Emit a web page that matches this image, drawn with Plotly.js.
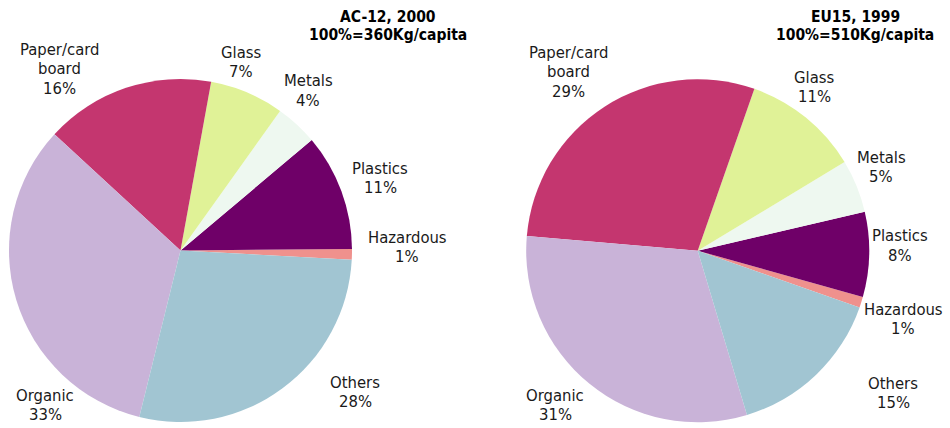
<!DOCTYPE html>
<html>
<head>
<meta charset="utf-8">
<script src="https://cdn.plot.ly/plotly-3.0.1.min.js"></script>
<style>html,body{margin:0;padding:0;background:#fff}#chart{width:950px;height:428px}</style>
</head>
<body>
<div id="chart"></div>
<script>
// ---- data ----
const labelLines = [['Hazardous'], ['Plastics'], ['Metals'], ['Glass'], ['Paper/card', 'board'], ['Organic'], ['Others']];
const labels = labelLines.map(l => l.join(' '));
const ac12Values = [1, 11, 4, 7, 16, 33, 28];
const eu15Values = [1, 8, 5, 11, 29, 31, 15];
const chartTitles = ['AC-12, 2000', 'EU15, 1999'];
const kgPerCapita = [360, 510];

// ---- styles / layout ----
const colors = ['#EF918D', '#6F0068', '#EEF8F0', '#E0F297', '#C4366F', '#C9B3D8', '#A1C5D2'];
const W = 950, H = 428;
const FONT = 'DejaVu Sans Condensed, DejaVu Sans, sans-serif';
const pies = [
  {values: ac12Values, cx: 180.5, cy: 250.5, r: 171.5, rotation: 89.5,
   titleX: 388, titleY: 17,
   labelPos: [[407,237],[380,168],[308,81],[241,52],[59,49],[45,395],[355,382]]},
  {values: eu15Values, cx: 697.7, cy: 250.7, r: 171.5, rotation: 105.7,
   titleX: 855, titleY: 17,
   labelPos: [[903,309],[900,236],[881,157],[814,77],[568,52],[555,395],[893,383]]}
];
const LINE = 19.5;

const data = [];
const annotations = [];
pies.forEach((p, k) => {
  data.push({
    type: 'pie', labels: labels, values: p.values, sort: false,
    direction: 'counterclockwise', rotation: p.rotation,
    marker: {colors: colors, line: {width: 0}},
    textinfo: 'none', hoverinfo: 'skip', showlegend: false,
    domain: {x: [(p.cx - p.r) / W, (p.cx + p.r) / W],
             y: [(H - p.cy - p.r) / H, (H - p.cy + p.r) / H]}
  });
  const tl = [chartTitles[k], '100%=' + kgPerCapita[k] + 'Kg/capita'];
  tl.forEach((t, j) => annotations.push({
    text: '<b>' + t + '</b>', xref: 'paper', yref: 'paper',
    x: p.titleX / W, y: 1 - (p.titleY + j * 18) / H, xanchor: 'center', yanchor: 'middle',
    showarrow: false, font: {family: FONT, size: 15.5, color: '#000'}
  }));
  labelLines.forEach((lines, i) => {
    const all = lines.concat([p.values[i] + '%']);
    all.forEach((t, j) => annotations.push({
      text: t, xref: 'paper', yref: 'paper',
      x: p.labelPos[i][0] / W, y: 1 - (p.labelPos[i][1] + j * LINE) / H,
      xanchor: 'center', yanchor: 'middle', showarrow: false,
      font: {family: FONT, size: 16.5, color: '#1a1a1a'}
    }));
  });
});

Plotly.newPlot('chart', data, {
  width: W, height: H, margin: {l: 0, r: 0, t: 0, b: 0},
  paper_bgcolor: '#fff', plot_bgcolor: '#fff', annotations: annotations
}, {staticPlot: true, displayModeBar: false});
</script>
</body>
</html>
